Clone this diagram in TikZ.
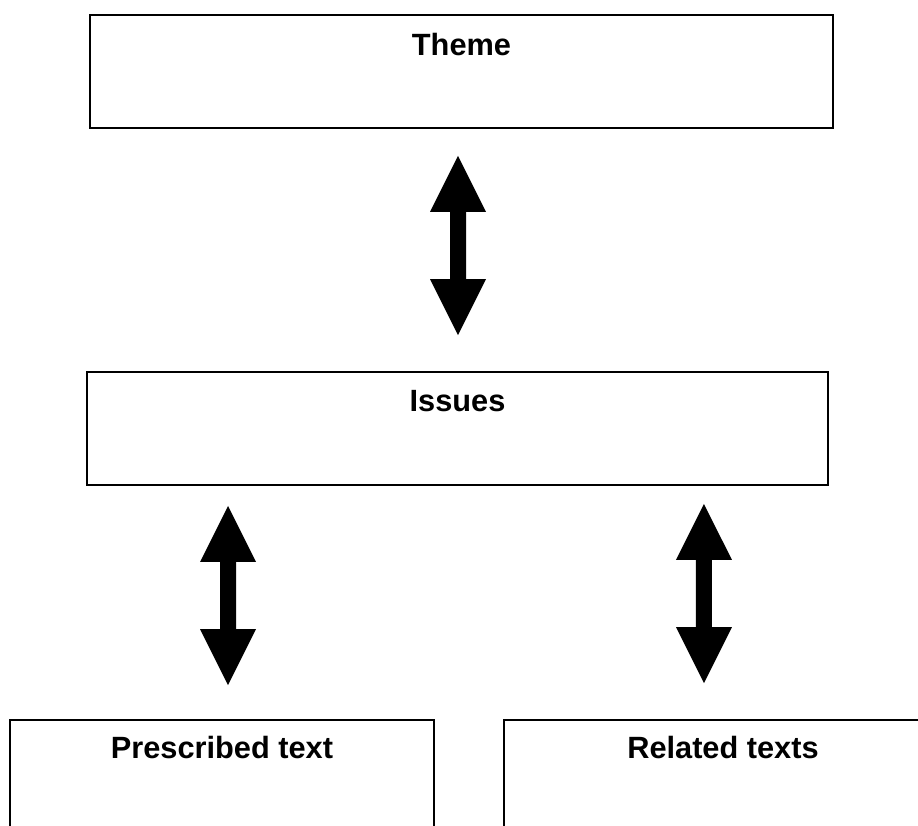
\documentclass[tikz,border=0pt]{standalone}
\usepackage{fontspec}
\setmainfont{Liberation Sans}
\usetikzlibrary{arrows.meta}

\begin{document}
\begin{tikzpicture}[x=0.02cm,y=-0.02cm,
  box/.style={draw,line width=1.1pt,inner sep=0pt,anchor=base,font=\fontsize{17.5}{20}\selectfont\bfseries},
  twoway/.style={line width=0.32cm,{Triangle[length=1.12cm,width=1.12cm,line width=0pt]}-{Triangle[length=1.12cm,width=1.12cm,line width=0pt]}}]
\useasboundingbox (0,0) rectangle (918,825);
\clip (0,0) rectangle (918,825);

\node[box,minimum width=14.86cm,text height=0.8cm,text depth=1.46cm] (theme) at (461.5,55) {Theme};
\node[box,minimum width=14.82cm,text height=0.78cm,text depth=1.48cm] (issues) at (457.5,411) {Issues};

\node[box,minimum width=8.48cm,text height=0.76cm,text depth=2cm] (prescribed) at (222,758) {Prescribed text};
\node[box,minimum width=8.76cm,text height=0.76cm,text depth=2cm] (related) at (723,758) {Related texts};

\draw[twoway,shorten <=0.54cm,shorten >=0.72cm] ([xshift=-0.07cm]theme.south) -- ([xshift=0.01cm]issues.north);
\draw[twoway,shorten <=0.4cm,shorten >=0.68cm] ([xshift=-4.59cm]issues.south) -- ([xshift=0.12cm]prescribed.north);
\draw[twoway,shorten <=0.36cm,shorten >=0.72cm] ([xshift=4.93cm]issues.south) -- ([xshift=-0.38cm]related.north);
\end{tikzpicture}
\end{document}
